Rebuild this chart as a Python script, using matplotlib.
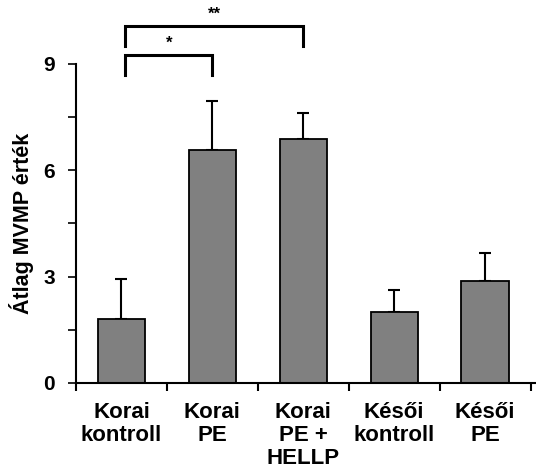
import numpy as np
import matplotlib.pyplot as plt
from matplotlib.ticker import MultipleLocator, FixedLocator

plt.rcParams['font.family'] = ['Liberation Sans', 'DejaVu Sans']
plt.rcParams['font.weight'] = 'bold'

groups = ['Korai\nkontroll', 'Korai\nPE', 'Korai\nPE +\nHELLP', 'Késői\nkontroll', 'Késői\nPE']
means = [1.81, 6.57, 6.89, 2.01, 2.88]
errors = [1.12, 1.38, 0.73, 0.61, 0.80]

# significance brackets: (left group, right group, bracket top, label)
brackets = [(0, 1, 9.25, '*'), (0, 2, 10.06, '**')]

fig = plt.figure(figsize=(5.36, 4.75), dpi=100)
ax = fig.add_axes([0.1418, 0.1937, 0.8582, 0.6716])

x = np.arange(len(groups))
ax.bar(x, means, width=0.52, color='#808080', edgecolor='black', linewidth=1.3,
       zorder=2)
ax.errorbar(x, means, yerr=[np.zeros(len(errors)), errors], fmt='none',
            ecolor='black', elinewidth=1.5, capsize=4.5, capthick=1.5, zorder=1)

ax.set_xlim(-0.5, 4.56)
ax.set_ylim(0, 9)
ax.yaxis.set_major_locator(MultipleLocator(3))
ax.yaxis.set_minor_locator(MultipleLocator(1.5))
ax.xaxis.set_major_locator(FixedLocator(np.arange(-0.5, 5, 1)))
ax.xaxis.set_minor_locator(FixedLocator(x))
ax.set_xticklabels([])
ax.set_xticklabels(groups, minor=True)
ax.tick_params(axis='x', which='minor', length=0, pad=14, labelsize=16)
ax.tick_params(axis='x', which='major', length=6, width=1.5, direction='out')
ax.tick_params(axis='y', which='both', length=6, width=1.2, direction='out',
               labelsize=15, pad=9)
for lbl in ax.get_xticklabels(minor=True):
    lbl.set_linespacing(1.12)
    lbl.set_fontweight('bold')
for lbl in ax.get_yticklabels():
    lbl.set_fontweight('bold')

for side in ['top', 'right']:
    ax.spines[side].set_visible(False)
for side in ['left', 'bottom']:
    ax.spines[side].set_linewidth(1.5)

ax.set_ylabel('Átlag MVMP érték', fontsize=15.5, fontweight='bold', labelpad=7)

for g1, g2, top, star in brackets:
    xl, xr = g1 + 0.04, g2
    ax.plot([xl, xl, xr, xr], [top - 0.55, top, top, top - 0.55], color='black',
            lw=2.2, clip_on=False, solid_joinstyle='miter')
    ax.text((xl + xr) / 2, top + 0.12, star, ha='center', va='bottom',
            fontsize=12, fontweight='bold')

fig.savefig('out.png', dpi=100)
